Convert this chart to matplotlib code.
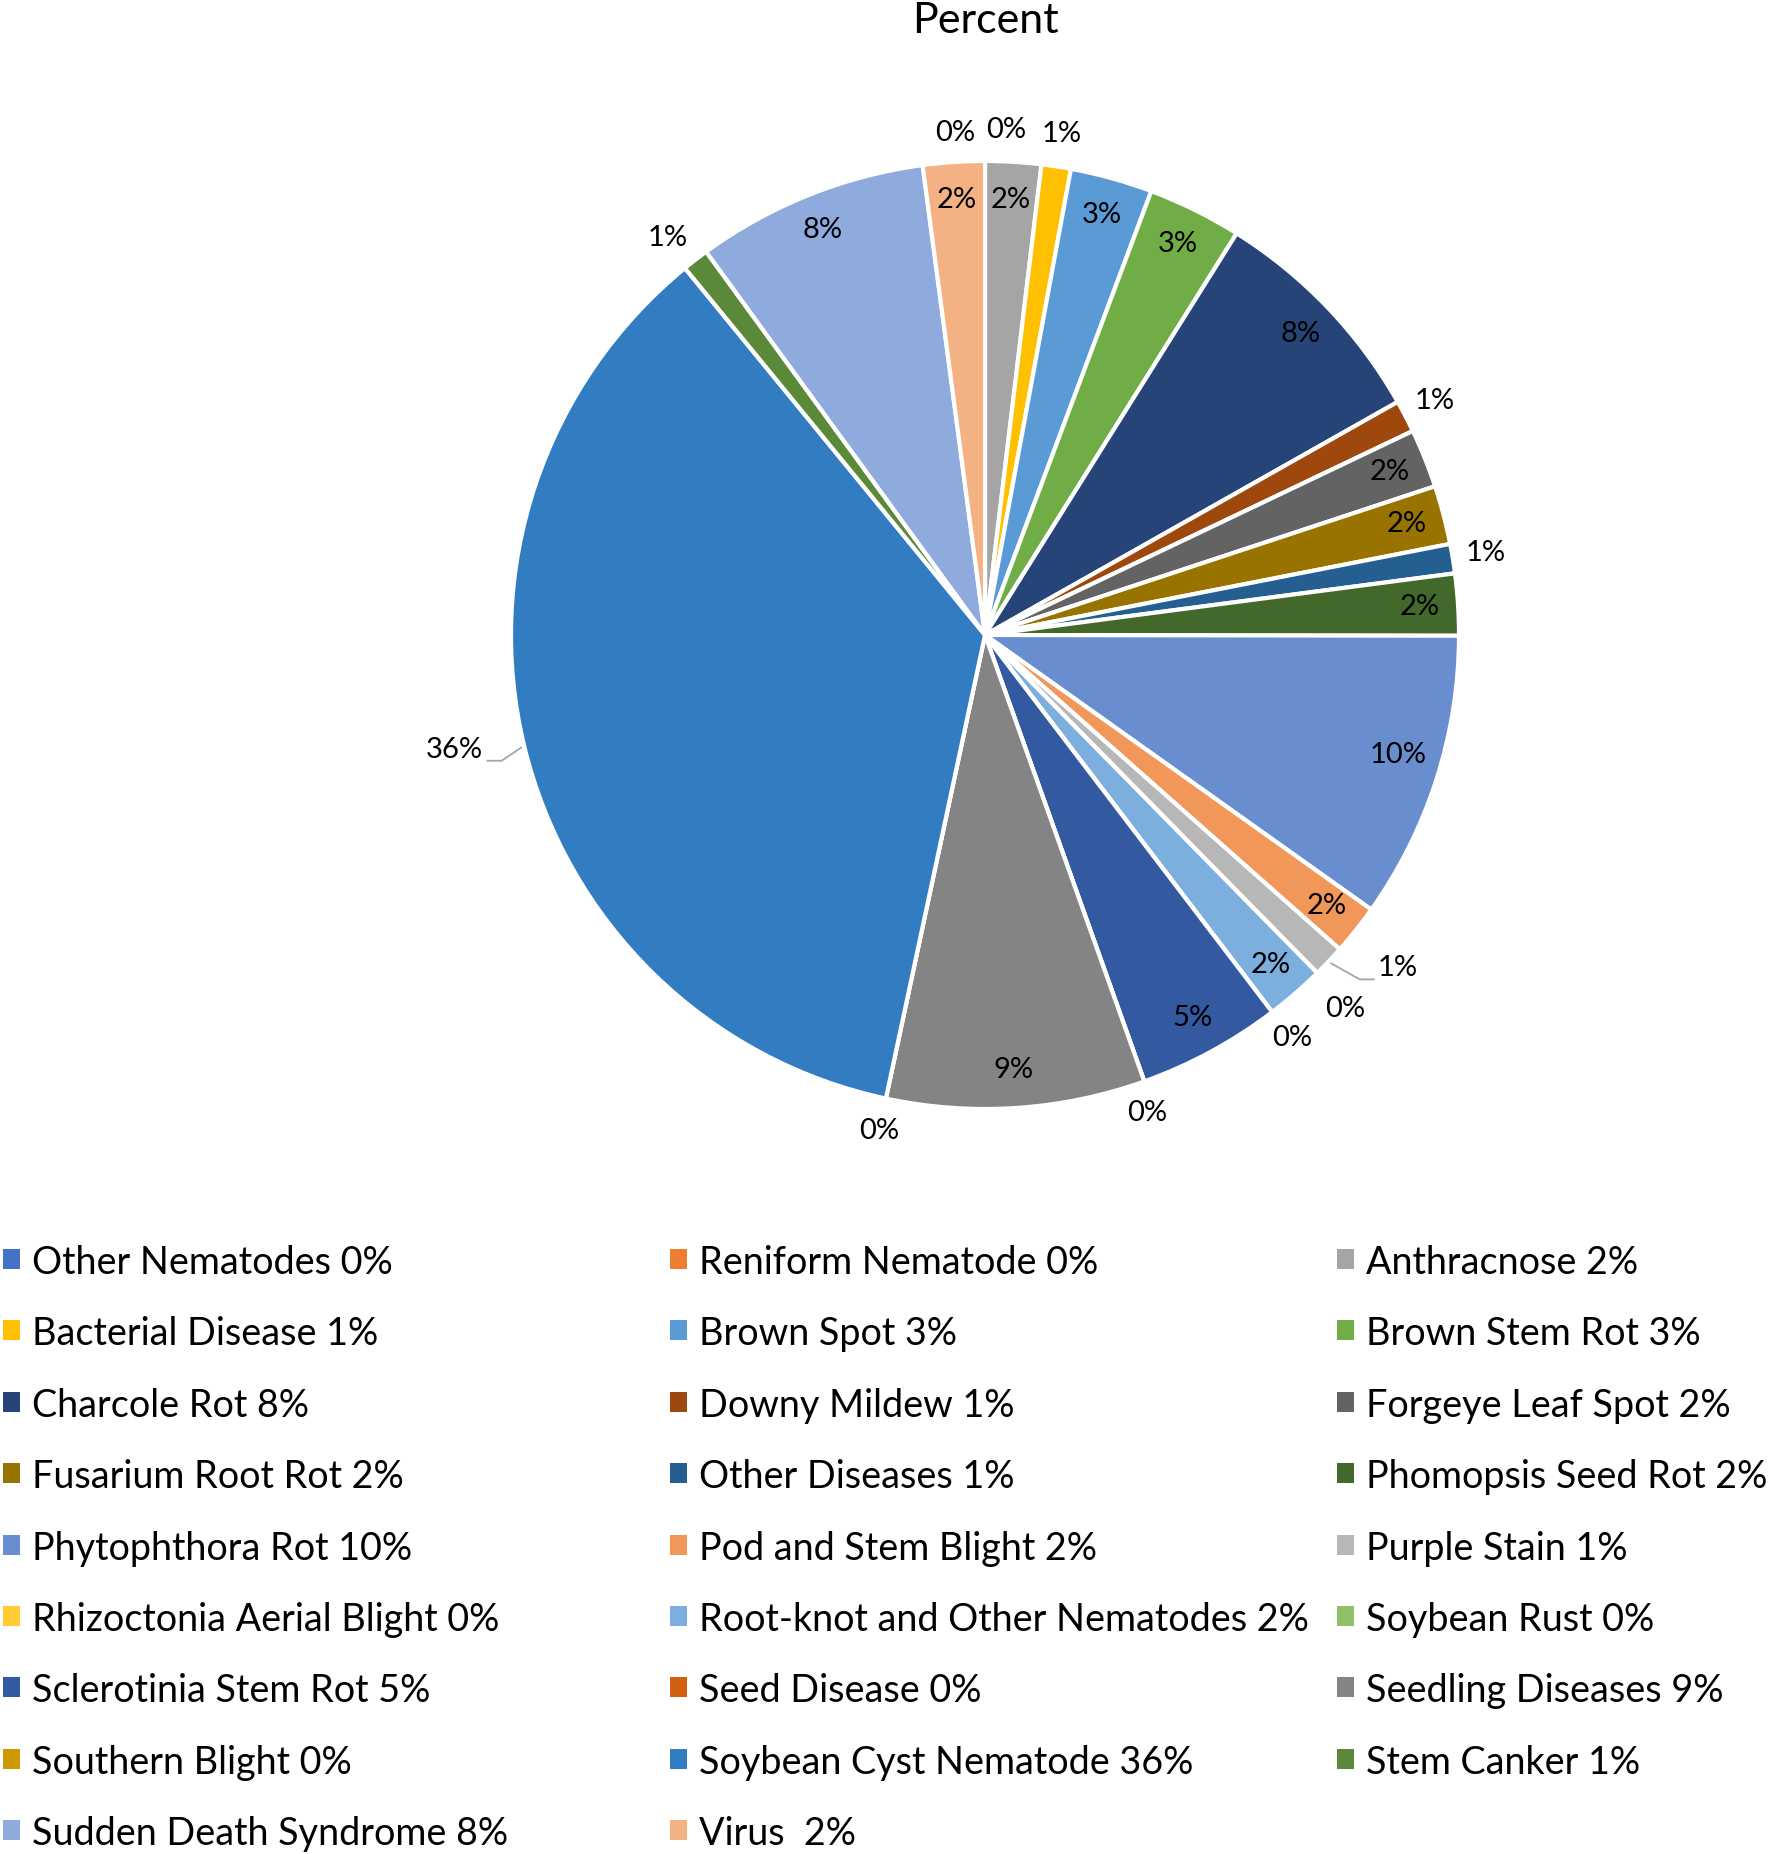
import numpy as np
import matplotlib.pyplot as plt
from matplotlib.patches import Rectangle

plt.rcParams['font.family'] = ['Lato', 'DejaVu Sans']

# ---------------------------------------------------------------- data
categories = ['Other Nematodes', 'Reniform Nematode', 'Anthracnose', 'Bacterial Disease',
              'Brown Spot', 'Brown Stem Rot', 'Charcole Rot', 'Downy Mildew',
              'Forgeye Leaf Spot', 'Fusarium Root Rot', 'Other Diseases', 'Phomopsis Seed Rot',
              'Phytophthora Rot', 'Pod and Stem Blight', 'Purple Stain', 'Rhizoctonia Aerial Blight',
              'Root-knot and Other Nematodes', 'Soybean Rust', 'Sclerotinia Stem Rot', 'Seed Disease',
              'Seedling Diseases', 'Southern Blight', 'Soybean Cyst Nematode', 'Stem Canker',
              'Sudden Death Syndrome', 'Virus ']
values = [0, 0, 1.9, 1.0, 2.8, 3.2, 7.9, 1.1, 2.0, 2.0, 1.0, 2.1, 9.8, 1.7, 1.1, 0,
          2.0, 0, 4.9, 0, 8.8, 0, 35.7, 0.9, 7.9, 2.1]

colors = ['#4472C4', '#ED7D31', '#A5A5A5', '#FFC000', '#5B9BD5', '#70AD47',
          '#264478', '#9E480E', '#636363', '#997300', '#255E91', '#43682B',
          '#698ED0', '#F1975A', '#B7B7B7', '#FFCD33', '#7CAFDD', '#8CC168',
          '#335AA1', '#D26012', '#848484', '#CC9A00', '#327DC2', '#5A8A39',
          '#8FAADC', '#F4B183']

pct_text = ['%d%%' % round(v) for v in values]

# label placement tweaks (radius, clockwise nudge in degrees)
overrides = {0: (1.06, -3.4), 1: (1.066, 2.4), 12: (0.907, -1.6), 14: (1.12, -4.6),
             15: (1.095, 0.6), 19: (1.065, 0.9), 22: (1.146, 1.4), 23: (1.073, -1.0)}
leaders = [14, 22]

W, H = 1771, 1854
fig = plt.figure(figsize=(W / 100, H / 100), dpi=100)

# overlay in pixel coords for title and legend
lax = fig.add_axes([0, 0, 1, 1])
lax.set_xlim(0, W)
lax.set_ylim(H, 0)
lax.axis('off')

# pie axes, center (985, 635) px, radius 474 px
R = 474.
cx, cy = 985., 635.
half = 600.
ax = fig.add_axes([(cx - half) / W, (H - cy - half) / H, 2 * half / W, 2 * half / H])
wedges, _ = ax.pie(values, colors=colors, startangle=90, counterclock=False,
                   wedgeprops=dict(edgecolor='white', linewidth=3.0))
ax.set_xlim(-half / R, half / R)
ax.set_ylim(-half / R, half / R)
ax.set_aspect('equal')
ax.axis('off')

for i, w in enumerate(wedges):
    mid = (w.theta1 + w.theta2) / 2.
    if values[i] >= 1.5:
        r, nud = 0.92, 0.
    else:
        r, nud = 1.07, 0.
    if i in overrides:
        r, nud = overrides[i]
    ang = np.radians(mid - nud)
    x, y = r * np.cos(ang), r * np.sin(ang)
    ax.text(x, y, pct_text[i], ha='center', va='center', fontsize=21, color='#000000')
    if i in leaders:
        s = np.sign(x)
        hw = 0.0195 * len(pct_text[i])
        ex, ey = x - s * (hw + 0.01), y - 0.023
        bx = ex - s * 0.032
        m = np.radians(mid)
        ax.plot([np.cos(m) * 1.005, bx, ex], [np.sin(m) * 1.005, ey, ey],
                color='#A6A6A6', lw=1.3, solid_capstyle='butt')

# title
lax.text(985, 33, 'Percent', ha='center', va='baseline', fontsize=31)

# legend, 3 columns row-major
col_x = [32, 699, 1366]
for i, name in enumerate(categories):
    row, col = i // 3, i % 3
    base = 1274 + row * 71.4
    lax.add_patch(Rectangle((col_x[col] - 29, base - 25), 17, 20, facecolor=colors[i],
                            edgecolor='none'))
    lax.text(col_x[col], base, '%s %s' % (name, pct_text[i]), ha='left', va='baseline',
             fontsize=27.2)

fig.savefig('out.png', dpi=100)
